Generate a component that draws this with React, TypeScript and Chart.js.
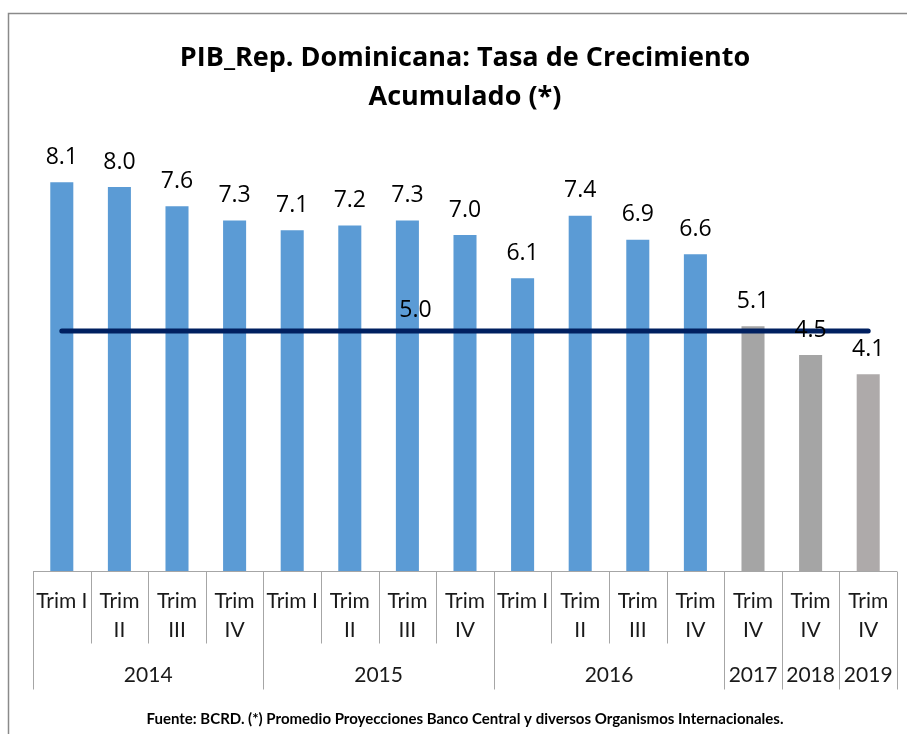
import React, { useEffect, useRef } from "react";
import { Chart, registerables } from "chart.js";

Chart.register(...registerables);

const quarterLabels: string[][] = [
  ["Trim I"], ["Trim", "II"], ["Trim", "III"], ["Trim", "IV"],
  ["Trim I"], ["Trim", "II"], ["Trim", "III"], ["Trim", "IV"],
  ["Trim I"], ["Trim", "II"], ["Trim", "III"], ["Trim", "IV"],
  ["Trim", "IV"], ["Trim", "IV"], ["Trim", "IV"],
];
const yearGroups: string[] = ["2014", "2015", "2016", "2017", "2018", "2019"];
const yearSpans: number[] = [4, 4, 4, 1, 1, 1];
const growthValues: number[] = [8.1, 8.0, 7.6, 7.3, 7.1, 7.2, 7.3, 7.0, 6.1, 7.4, 6.9, 6.6, 5.1, 4.5, 4.1];
const barColors: string[] = [
  "#5B9BD5", "#5B9BD5", "#5B9BD5", "#5B9BD5",
  "#5B9BD5", "#5B9BD5", "#5B9BD5", "#5B9BD5",
  "#5B9BD5", "#5B9BD5", "#5B9BD5", "#5B9BD5",
  "#A5A5A5", "#A5A5A5", "#AEAAAA",
];
const averageValue = 5.0;
const averageLabelIndex = 6;
const titleLines: string[] = ["PIB_Rep. Dominicana: Tasa de Crecimiento", "Acumulado (*)"];
const footerText = "Fuente: BCRD. (*) Promedio Proyecciones Banco Central y diversos Organismos Internacionales.";

const W = 907;
const H = 734;

const decorPlugin = {
  id: "decor",
  afterDraw(chart: any) {
    const ctx: CanvasRenderingContext2D = chart.ctx;
    const area = chart.chartArea;
    const xScale = chart.scales.x;
    const yScale = chart.scales.y;
    const n = growthValues.length;
    const step = (area.right - area.left) / n;
    ctx.save();

    // outer border (top & left)
    ctx.strokeStyle = "#8a8a8a";
    ctx.lineWidth = 1.5;
    ctx.beginPath();
    ctx.moveTo(8.5, H);
    ctx.lineTo(8.5, 13.5);
    ctx.lineTo(W, 13.5);
    ctx.stroke();

    // title
    ctx.fillStyle = "#000000";
    ctx.textAlign = "center";
    ctx.textBaseline = "middle";
    ctx.font = "bold 27px 'Open Sans'";
    const cx = (area.left + area.right) / 2;
    ctx.fillText(titleLines[0], cx, 58);
    ctx.fillText(titleLines[1], cx, 97);

    // value labels
    ctx.font = "23px 'Open Sans'";
    ctx.fillStyle = "#000000";
    const barMeta = chart.getDatasetMeta(1);
    barMeta.data.forEach((bar: any, i: number) => {
      ctx.fillText(growthValues[i].toFixed(1), bar.x, bar.y - 25);
    });
    // average label
    const ax = xScale.getPixelForValue(averageLabelIndex) + 8;
    const ay = yScale.getPixelForValue(averageValue) - 21;
    ctx.fillText(averageValue.toFixed(1), ax, ay);

    // axis line
    const base = Math.round(area.bottom) + 0.5;
    ctx.strokeStyle = "#a6a6a6";
    ctx.lineWidth = 1;
    ctx.beginPath();
    ctx.moveTo(area.left, base);
    ctx.lineTo(area.right, base);
    ctx.stroke();

    // separators
    const yearBoundaries = new Set<number>();
    let acc = 0;
    yearBoundaries.add(0);
    yearSpans.forEach((s) => {
      acc += s;
      yearBoundaries.add(acc);
    });
    for (let k = 0; k <= n; k++) {
      const x = Math.round(area.left + step * k) + 0.5;
      const long = yearBoundaries.has(k);
      ctx.beginPath();
      ctx.moveTo(x, base);
      ctx.lineTo(x, long ? base + 118 : base + 72);
      ctx.stroke();
    }

    // quarter labels
    ctx.fillStyle = "#1a1a1a";
    ctx.font = "21px Lato";
    quarterLabels.forEach((lines, i) => {
      const x = area.left + step * (i + 0.5);
      lines.forEach((t, j) => {
        ctx.fillText(t, x, base + 30 + j * 29);
      });
    });

    // year labels
    let start = 0;
    yearGroups.forEach((y, g) => {
      const end = start + yearSpans[g];
      const x = area.left + step * ((start + end) / 2);
      ctx.fillText(y, x, base + 104);
      start = end;
    });

    // footer
    ctx.fillStyle = "#000000";
    ctx.font = "bold 15px Lato";
    ctx.fillText(footerText, cx, 719, 642);

    ctx.restore();
  },
};

export default function App() {
  const ref = useRef<HTMLCanvasElement | null>(null);
  useEffect(() => {
    document.body.style.margin = "0";
    const canvas = ref.current;
    if (!canvas) return;
    const chart = new Chart(canvas, {
      type: "bar",
      data: {
        labels: quarterLabels.map((l) => l.join(" ")),
        datasets: [
          {
            type: "line",
            data: growthValues.map(() => averageValue),
            borderColor: "#002060",
            borderWidth: 5,
            borderCapStyle: "round",
            pointRadius: 0,
            order: 0,
          } as any,
          {
            type: "bar",
            data: growthValues,
            backgroundColor: barColors,
            barPercentage: 0.4,
            categoryPercentage: 1,
            order: 1,
          },
        ],
      },
      options: {
        animation: false,
        responsive: false,
        maintainAspectRatio: false,
        devicePixelRatio: 1,
        layout: { padding: { left: 33, right: 10, top: 139, bottom: 163 } },
        plugins: { legend: { display: false }, title: { display: false }, tooltip: { enabled: false } },
        scales: {
          x: { display: false, offset: true, grid: { display: false } },
          y: { display: false, min: 0, max: 9 },
        },
      },
      plugins: [decorPlugin],
    });
    return () => chart.destroy();
  }, []);
  return (
    <div style={{ position: "absolute", left: 0, top: 0, width: W, height: H, background: "#fff" }}>
      <canvas ref={ref} width={W} height={H} style={{ width: W, height: H, display: "block" }} />
    </div>
  );
}
